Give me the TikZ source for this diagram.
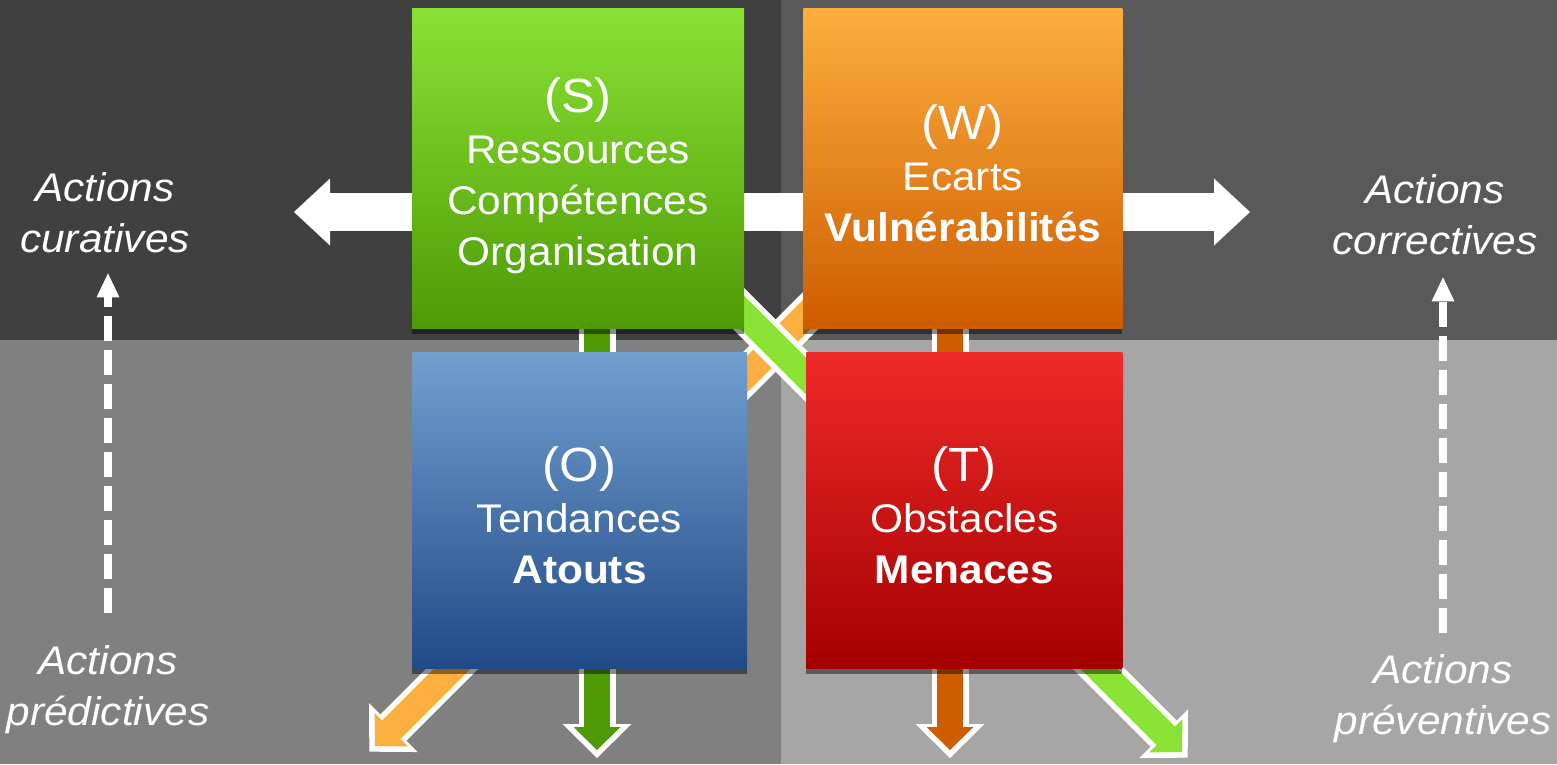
\documentclass[tikz,border=0pt]{standalone}
\usepackage{fontspec}
\setmainfont{Liberation Sans}[FakeStretch=1.06]
\usetikzlibrary{positioning, arrows.meta, shadows}

\definecolor{tl_gray}{HTML}{404040}
\definecolor{tr_gray}{HTML}{595959}
\definecolor{bl_gray}{HTML}{808080}
\definecolor{br_gray}{HTML}{A6A6A6}
\definecolor{green_light}{HTML}{8AE234}
\definecolor{green_dark}{HTML}{4E9A06}
\definecolor{orange_light}{HTML}{FCAF3E}
\definecolor{orange_dark}{HTML}{CE5C00}
\definecolor{blue_light}{HTML}{729FCF}
\definecolor{blue_dark}{HTML}{204A87}
\definecolor{red_light}{HTML}{EF2929}
\definecolor{red_dark}{HTML}{A40000}

\pgfdeclarelayer{back}
\pgfdeclarelayer{arrows}
\pgfsetlayers{back,arrows,main}

\begin{document}
\begin{tikzpicture}
[
    x=1pt, y=-1pt,
    swot_box/.style={rectangle, inner sep=0pt, text=white, align=center, font=\fontsize{40}{51}\selectfont, text height=147pt,
        drop shadow={shadow xshift=0pt, shadow yshift=-6pt, opacity=0.45, fill=black}},
    action_text/.style={inner sep=0pt, text=white, align=center, font=\itshape\fontsize{40}{51}\selectfont},
    fat_arrow/.style={line width=26pt, -{Triangle[width=47pt, length=23pt, line width=0pt]},
        preaction={draw=white, line width=37pt, shorten >=-8pt, -{Triangle[width=69pt, length=34pt, line width=0pt]}}},
    wide_arrow/.style={draw=white, line width=38pt, -{Triangle[width=67pt, length=36pt, line width=0pt]}},
    dash_arrow/.style={draw=white, line width=8pt, dash pattern=on 25pt off 9pt, -{Triangle[width=23pt, length=24pt, line width=0pt]}},
]
    \useasboundingbox (0,0) rectangle (1557,764);
    \node[swot_box, text height=204pt, top color=green_light, bottom color=green_dark, minimum width=332pt, minimum height=320pt] (S) at (578,168)
        {{\fontsize{48}{51}\selectfont (S)}\\Ressources\\Compétences\\Organisation} ;
    \node[swot_box, top color=orange_light, bottom color=orange_dark, minimum width=319pt, minimum height=320pt] (W) [right=59pt of S]
        {{\fontsize{48}{51}\selectfont (W)}\\Ecarts\\\textbf{Vulnérabilités}} ;
    \node[swot_box, top color=blue_light, bottom color=blue_dark, minimum width=335pt, minimum height=316pt] (O) [below=24pt of S, xshift=1.5pt]
        {{\fontsize{48}{51}\selectfont (O)}\\Tendances\\\textbf{Atouts}} ;
    \node[swot_box, top color=red_light, bottom color=red_dark, minimum width=316pt, minimum height=316pt] (T) [right=59pt of O]
        {{\fontsize{48}{51}\selectfont (T)}\\Obstacles\\\textbf{Menaces}} ;
    \node[action_text] (cur) at (105,213) {Actions\\curatives} ;
    \node[action_text] (cor) at (1435,215) {Actions\\correctives} ;
    \node[action_text] (pred) at (108,690) {Actions\\prédictives} ;
    \node[action_text] (prev) at (1443,699) {Actions\\préventives} ;
    \coordinate (cur_tip) at (294,212) ;
    \coordinate (cor_tip) at (1250,212) ;
    \coordinate (s_tip) at (597,750) ;
    \coordinate (w_tip) at (950,750) ;
    \coordinate (o_tip) at (375,746) ;
    \coordinate (t_tip) at (1182,752) ;
    \draw[dash_arrow, shorten <=33pt, shorten >=20pt] (pred.north) -- (pred.north |- cur.south) ;
    \draw[dash_arrow, shorten <=22pt, shorten >=22pt] (prev.north) -- (prev.north |- cor.south) ;
    \begin{pgfonlayer}{arrows}
    \draw[wide_arrow] (S.center |- cur_tip) -- (cur_tip) ;
    \draw[wide_arrow] (S.center |- cur_tip) -- (cor_tip) ;
    \draw[fat_arrow, draw=green_dark] (s_tip |- S.center) -- (s_tip) ;
    \draw[fat_arrow, draw=orange_dark] (w_tip |- W.center) -- (w_tip) ;
    \draw[fat_arrow, draw=orange_light] ([xshift=-9.5pt]W.center) -- (o_tip) ;
    \draw[fat_arrow, draw=green_light] ([xshift=20pt]S.center) -- (t_tip) ;
    \end{pgfonlayer}
    \begin{pgfonlayer}{back}
    \fill[tl_gray] (0,0) rectangle (781,340) ;
    \fill[tr_gray] (781,0) rectangle (1557,340) ;
    \fill[bl_gray] (0,340) rectangle (781,764) ;
    \fill[br_gray] (781,340) rectangle (1557,764) ;
    \end{pgfonlayer}
\end{tikzpicture}
\end{document}
